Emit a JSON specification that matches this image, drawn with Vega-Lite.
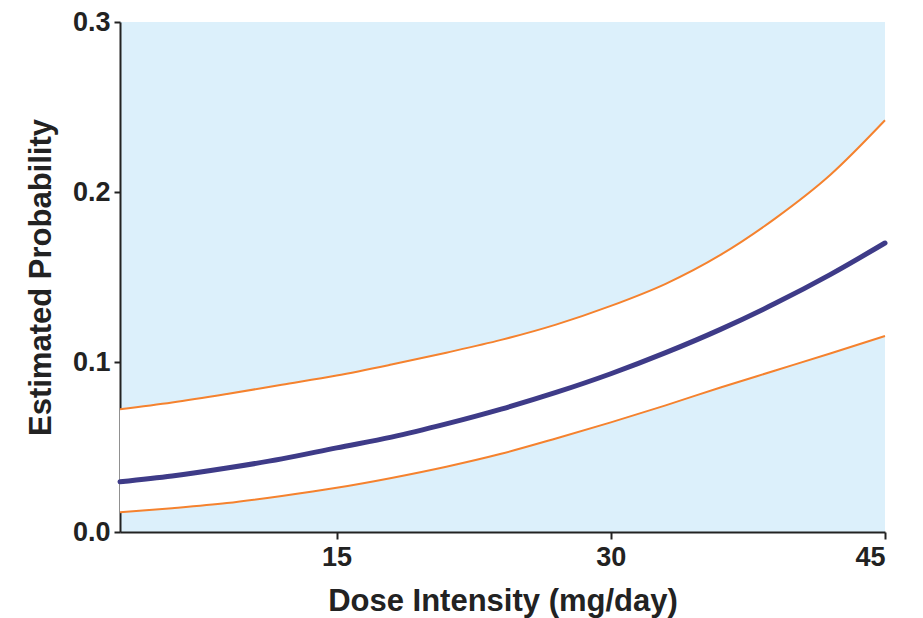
{
  "$schema": "https://vega.github.io/schema/vega-lite/v6.json",
  "width": 765,
  "height": 510,
  "autosize": {"type": "none"},
  "padding": {"left": 120, "top": 22, "right": 38, "bottom": 86},
  "background": "white",
  "view": {"fill": "#dcf0fb", "stroke": null},
  "config": {
    "font": "Liberation Sans",
    "axis": {
      "domainColor": "#222222",
      "domainWidth": 2,
      "tickColor": "#222222",
      "tickWidth": 2,
      "tickSize": 6,
      "grid": false,
      "labelFont": "Liberation Sans",
      "labelFontWeight": "bold",
      "labelFontSize": 27,
      "labelColor": "#222222",
      "titleFont": "Liberation Sans",
      "titleFontWeight": "bold",
      "titleFontSize": 31,
      "titleColor": "#222222"
    }
  },
  "data": {
    "values": [
      {"dose": 3.15, "est": 0.0295, "lower": 0.0116, "upper": 0.0722},
      {"dose": 6, "est": 0.0329, "lower": 0.0140, "upper": 0.0762},
      {"dose": 9, "est": 0.0376, "lower": 0.0170, "upper": 0.0812},
      {"dose": 12, "est": 0.0430, "lower": 0.0212, "upper": 0.0866},
      {"dose": 15, "est": 0.0495, "lower": 0.0260, "upper": 0.0920},
      {"dose": 18, "est": 0.0558, "lower": 0.0318, "upper": 0.0985},
      {"dose": 21, "est": 0.0636, "lower": 0.0384, "upper": 0.1055},
      {"dose": 24, "est": 0.0723, "lower": 0.0460, "upper": 0.1130},
      {"dose": 27, "est": 0.0821, "lower": 0.0550, "upper": 0.1220},
      {"dose": 30, "est": 0.0931, "lower": 0.0645, "upper": 0.1330},
      {"dose": 33, "est": 0.1055, "lower": 0.0745, "upper": 0.1460},
      {"dose": 36, "est": 0.1192, "lower": 0.0850, "upper": 0.1630},
      {"dose": 39, "est": 0.1345, "lower": 0.0950, "upper": 0.1845},
      {"dose": 42, "est": 0.1514, "lower": 0.1050, "upper": 0.2100},
      {"dose": 45, "est": 0.1700, "lower": 0.1153, "upper": 0.2422}
    ]
  },
  "encoding": {
    "x": {
      "field": "dose",
      "type": "quantitative",
      "scale": {"domain": [3.15, 45], "nice": false, "zero": false},
      "axis": {"values": [15, 30, 45], "title": "Dose Intensity (mg/day)", "tickSize": 7, "labelPadding": 5, "titlePadding": 16}
    }
  },
  "layer": [
    {
      "mark": {"type": "area", "color": "white", "interpolate": "monotone"},
      "encoding": {
        "y": {
          "field": "lower",
          "type": "quantitative",
          "scale": {"domain": [0, 0.3], "nice": false},
          "axis": {"values": [0, 0.1, 0.2, 0.3], "format": ".1f", "title": "Estimated Probability", "labelPadding": 4, "titlePadding": 15}
        },
        "y2": {"field": "upper"}
      }
    },
    {
      "mark": {"type": "line", "color": "#f5822e", "strokeWidth": 2, "interpolate": "monotone"},
      "encoding": {"y": {"field": "upper", "type": "quantitative"}}
    },
    {
      "mark": {"type": "line", "color": "#f5822e", "strokeWidth": 2, "interpolate": "monotone"},
      "encoding": {"y": {"field": "lower", "type": "quantitative"}}
    },
    {
      "mark": {"type": "line", "color": "#3e3b88", "strokeWidth": 5, "strokeCap": "round", "interpolate": "monotone"},
      "encoding": {"y": {"field": "est", "type": "quantitative"}}
    }
  ]
}
